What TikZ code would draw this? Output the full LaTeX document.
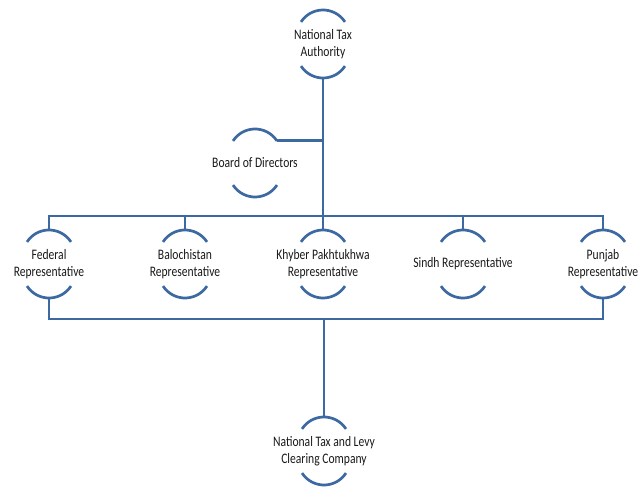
\documentclass[tikz,border=0pt]{standalone}
\usepackage{fontspec}
\setmainfont{Carlito}[FakeStretch=0.8]
\definecolor{lineblue}{RGB}{60,105,162}
\definecolor{txt}{RGB}{25,25,25}
\tikzset{
  lbl/.style={align=center, text=txt, inner sep=0pt, font=\fontsize{14.5}{16.5}\selectfont},
  arcline/.style={draw=lineblue, line width=2.7pt},
  bar/.style={draw=lineblue, line width=2.9pt}
}
\begin{document}
\begin{tikzpicture}[x=1pt,y=1pt]
\useasboundingbox (0,0) rectangle (640,487);
\node[lbl] (nta) at (323,443) {National Tax\\Authority};
\node[lbl] (board) at (255,324) {Board of Directors};
\node[lbl] (fed) at (49,223) {Federal\\Representative};
\node[lbl] (bal) at (185,223) {Balochistan\\Representative};
\node[lbl] (kp) at (323,223) {Khyber Pakhtukhwa\\Representative};
\node[lbl] (sindh) at (463,223) {Sindh Representative};
\node[lbl] (pun) at (603,223) {Punjab\\Representative};
\node[lbl] (ntl) at (324,36) {National Tax and Levy\\Clearing Company};
\foreach \n in {nta,board,fed,bal,kp,sindh,pun,ntl} {
  \draw[arcline] ([yshift=7.8pt]\n.center) ++(33:26.2pt) arc[start angle=33,end angle=147,radius=26.2pt];
  \draw[arcline] ([yshift=-7.8pt]\n.center) ++(213:26.2pt) arc[start angle=213,end angle=327,radius=26.2pt];
  \coordinate (\n-t) at ([yshift=34pt]\n.center);
  \coordinate (\n-b) at ([yshift=-34pt]\n.center);
  \coordinate (\n-e) at ([shift={(22pt,22.1pt)}]\n.center);
}
\coordinate (tb) at (0,271);
\coordinate (bb) at (0,168);
\draw[bar] (nta-b) -- (kp-t);
\draw[bar] (board-e) -- (board-e -| nta-b);
\draw[bar] (fed-t) -- (fed-t |- tb) -- (pun-t |- tb) -- (pun-t);
\draw[bar] (bal-t) -- (bal-t |- tb);
\draw[bar] (sindh-t) -- (sindh-t |- tb);
\draw[bar] (fed-b) -- (fed-b |- bb) -- (pun-b |- bb) -- (pun-b);
\draw[bar] (ntl-t |- bb) -- (ntl-t);
\end{tikzpicture}
\end{document}
